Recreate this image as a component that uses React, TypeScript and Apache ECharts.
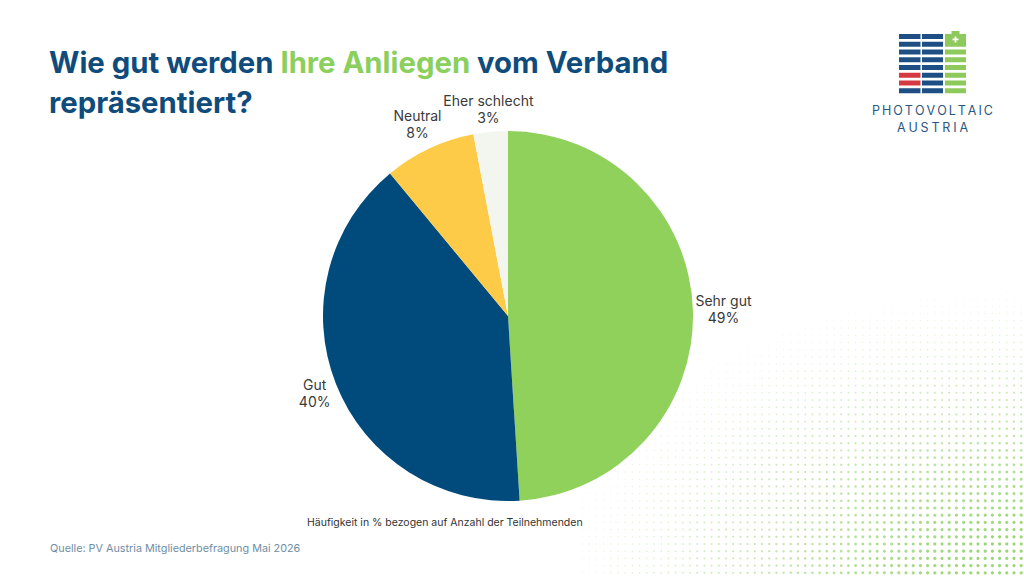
import React, { useEffect, useRef } from "react";
import * as echarts from "echarts";

// Survey answers, clockwise from 12 o'clock
const categories = ["Sehr gut", "Gut", "Neutral", "Eher schlecht"];
const shares = [49, 40, 8, 3];
const sliceColors = ["#8fd15b", "#004a7c", "#fdcb47", "#f3f5ef"];

const titleLead = "Wie gut werden ";
const titleHighlight = "Ihre Anliegen";
const titleTail = " vom Verband";
const titleSecondLine = "repräsentiert?";
const noteText = "Häufigkeit in % bezogen auf Anzahl der Teilnehmenden";
const sourceText = "Quelle: PV Austria Mitgliederbefragung Mai 2026";
const brandLines = ["PHOTOVOLTAIC", "AUSTRIA"];

const FONT = "Inter, 'Noto Sans', sans-serif";
const CX = 508;
const CY = 316;
const R = 185;

// Halftone dot field in the lower right corner
function dotField(): any[] {
  const out: any[] = [];
  const step = 7.2;
  for (let x = 582; x < 1024; x += step) {
    for (let y = 292; y < 576; y += step) {
      const dx = (1024 - x) / 470;
      const dy = (576 - y) / 290;
      const t = 1 - Math.sqrt(dx * dx + dy * dy);
      if (t <= 0.02) continue;
      out.push({
        type: "circle",
        silent: true,
        shape: { cx: x, cy: y, r: 0.5 + 1.1 * Math.min(1, t * 1.3) },
        style: { fill: "#8ccf5f", opacity: Math.min(0.85, 0.12 + 0.85 * t) },
      });
    }
  }
  return out;
}

// Letter-spaced word spread between x0 and x1, one glyph per text element
function spacedWord(word: string, x0: number, x1: number, cy: number, size: number): any[] {
  const font = `400 ${size}px ${FONT}`;
  const ctx = document.createElement("canvas").getContext("2d")!;
  ctx.font = font;
  const widths = word.split("").map((ch) => ctx.measureText(ch).width);
  const natural = widths.reduce((a, b) => a + b, 0);
  const gap = (x1 - x0 - natural) / (word.length - 1);
  let x = x0;
  return word.split("").map((ch, i) => {
    const el = {
      type: "text",
      silent: true,
      style: { text: ch, x, y: cy, align: "left", verticalAlign: "middle", fill: "#2a577f", font },
    };
    x += widths[i] + gap;
    return el;
  });
}

// Company mark: striped panel columns plus a battery column
function logo(): any[] {
  const els: any[] = [];
  const top = 34;
  const pitch = 7.75;
  const barH = 5;
  const blue = "#1d4f84";
  const red = "#d43a3f";
  const green = "#8dca5b";
  for (let i = 0; i < 8; i++) {
    const y = top + i * pitch;
    els.push({ type: "rect", shape: { x: 899, y, width: 21.5, height: barH }, style: { fill: i === 5 || i === 6 ? red : blue } });
    els.push({ type: "rect", shape: { x: 922, y, width: 21, height: barH }, style: { fill: blue } });
    if (i >= 2) {
      els.push({ type: "rect", shape: { x: 945, y, width: 21, height: barH }, style: { fill: green } });
    }
  }
  els.push({ type: "rect", shape: { x: 945, y: top, width: 21, height: pitch + barH }, style: { fill: green } });
  els.push({ type: "rect", shape: { x: 951.5, y: top - 3, width: 8, height: 3 }, style: { fill: green } });
  els.push({ type: "rect", shape: { x: 952.5, y: top + 4.5, width: 6, height: 1.8 }, style: { fill: "#ffffff" } });
  els.push({ type: "rect", shape: { x: 954.6, y: top + 2.5, width: 1.8, height: 6 }, style: { fill: "#ffffff" } });
  els.push(...spacedWord(brandLines[0], 872, 993, 110, 12.5));
  els.push(...spacedWord(brandLines[1], 897, 968, 127, 12.5));
  return els;
}

export default function App() {
  const ref = useRef<HTMLDivElement>(null);

  useEffect(() => {
    if (!ref.current) return;
    const chart = echarts.init(ref.current, undefined, { renderer: "svg" });
    const total = shares.reduce((a, b) => a + b, 0);

    const option: any = {
      animation: false,
      backgroundColor: "#ffffff",
      title: {
        left: 49,
        top: 42,
        padding: 0,
        text: `{a|${titleLead}}{b|${titleHighlight}}{a|${titleTail}}\n{a|${titleSecondLine}}`,
        textStyle: {
          rich: {
            a: { fontFamily: FONT, fontSize: 29.3, fontWeight: 700, color: "#0f4c7c", lineHeight: 40 },
            b: { fontFamily: FONT, fontSize: 29.3, fontWeight: 700, color: "#8bcf5c", lineHeight: 40 },
          },
        },
      },
      graphic: [
        ...dotField(),
        ...logo(),
        {
          type: "text",
          left: 307,
          top: 517,
          style: { text: noteText, fill: "#333333", font: `400 10.5px ${FONT}` },
        },
        {
          type: "text",
          left: 50,
          top: 543,
          style: { text: sourceText, fill: "#6f8ea6", font: `400 10.8px ${FONT}` },
        },
      ],
      series: [
        {
          type: "pie",
          center: [CX, CY],
          radius: [0, R],
          startAngle: 90,
          clockwise: true,
          silent: true,
          data: categories.map((name, i) => ({
            name,
            value: shares[i],
            itemStyle: { color: sliceColors[i] },
          })),
          label: {
            show: true,
            position: "outside",
            formatter: "{b}\n{c}%",
            fontFamily: FONT,
            fontSize: 14,
            lineHeight: 17,
            color: "#3a3a3a",
          },
          labelLine: { show: false },
          labelLayout: (p: any) => {
            let before = 0;
            for (let i = 0; i < p.dataIndex; i++) before += shares[i];
            const mid = ((before + shares[p.dataIndex] / 2) / total) * Math.PI * 2;
            const s = Math.sin(mid);
            const c = Math.cos(mid);
            const w = p.labelRect.width;
            const h = p.labelRect.height;
            const d = R + 2 + (Math.abs(s) * w) / 2 + (Math.abs(c) * h) / 2;
            return { x: CX + d * s, y: CY - d * c, align: "center", verticalAlign: "middle" };
          },
        },
      ],
    };

    chart.setOption(option);
    return () => chart.dispose();
  }, []);

  return <div ref={ref} style={{ width: 1024, height: 576, position: "absolute", left: 0, top: 0 }} />;
}
